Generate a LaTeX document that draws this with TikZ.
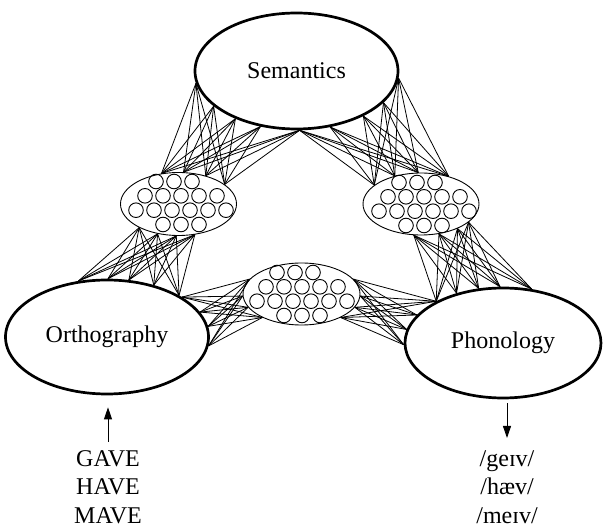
\documentclass[tikz,border=0pt]{standalone}
\usepackage{fontspec}
\setmainfont{Liberation Serif}
\usetikzlibrary{shapes.geometric,arrows.meta}
\begin{document}
\begin{tikzpicture}[x=1pt,y=-1pt,
  big/.style={ellipse,draw,line width=2.7pt,inner sep=0pt,font=\fontsize{24}{28}\selectfont},
  hid/.style={ellipse,draw,line width=0.9pt,inner sep=0pt},
  unit/.style={circle,draw,line width=0.9pt,minimum size=14.6pt,inner sep=0pt},
  link/.style={line width=0.8pt},
  lbl/.style={align=center,font=\fontsize{24}{28.5}\selectfont,inner sep=0pt,anchor=north},
  arr/.style={-{Triangle[length=12pt,width=8pt]},line width=0.9pt}]
\useasboundingbox (0,0) rectangle (603,529);

% main ellipses
\node[big,minimum width=203pt,minimum height=116pt] (sem) at (296.5,71) {Semantics};
\node[big,minimum width=203pt,minimum height=114pt] (orth) at (107,337) {Orthography};
\node[big,minimum width=196pt,minimum height=110pt] (phon) at (503,343) {Phonology};

% hidden ellipses
\node[hid,minimum width=116pt,minimum height=63pt] (hl) at (178.5,204) {};
\node[hid,minimum width=116pt,minimum height=62pt] (hr) at (421,204) {};
\node[hid,minimum width=117pt,minimum height=62pt] (hb) at (301.5,294) {};

% hidden units
\foreach \g/\cx/\cy in {hl/181/203, hr/424/204, hb/302/294}{
  \begin{scope}[shift={(\cx,\cy)}]
    \foreach \dx/\dy [count=\i] in {-25/-21.5,-7/-21.5,11/-21.5,
        -36/-7.2,-18/-7.2,0/-7.2,18/-7.2,36/-7.2,
        -45/7.2,-27/7.2,-9/7.2,9/7.2,27/7.2,45/7.2,
        -18/21.5,0/21.5,18/21.5}
      \node[unit] (\g-\i) at (\dx,\dy) {};
  \end{scope}
}

% connections
\foreach \a in {187,203,218,237,273}
  \foreach \b in {119,81,46,23}
    \draw[link] (sem.\a) -- (hl.\b);
\foreach \a in {356,340,326,301,273}
  \foreach \b in {158,133,95,45}
    \draw[link] (sem.\a) -- (hr.\b);
\foreach \a in {117,89,69,48,30}
  \foreach \b in {211,235,266,298}
    \draw[link] (orth.\a) -- (hl.\b);
\foreach \a in {148,133,114,93,62}
  \foreach \b in {257,301,326,339}
    \draw[link] (phon.\a) -- (hr.\b);
\foreach \a in {28,15,6,355}
  \foreach \b in {164,182,194,211}
    \draw[link] (orth.\a) -- (hb.\b);
\foreach \a in {148,162,172,181}
  \foreach \b in {16,358,346,329}
    \draw[link] (phon.\a) -- (hb.\b);

% inputs and outputs
\node[lbl] (ow) at (108,450) {GAVE\\HAVE\\MAVE};
\node[lbl] (pw) at (507,450) {/geɪv/\\/hæv/\\/meɪv/};
\draw[arr,shorten >=12pt] ([yshift=8pt]ow.north) -- (ow.north |- orth.south);
\draw[arr,shorten <=4pt] (phon.south -| pw.north) -- ([yshift=12pt]pw.north);
\end{tikzpicture}
\end{document}
